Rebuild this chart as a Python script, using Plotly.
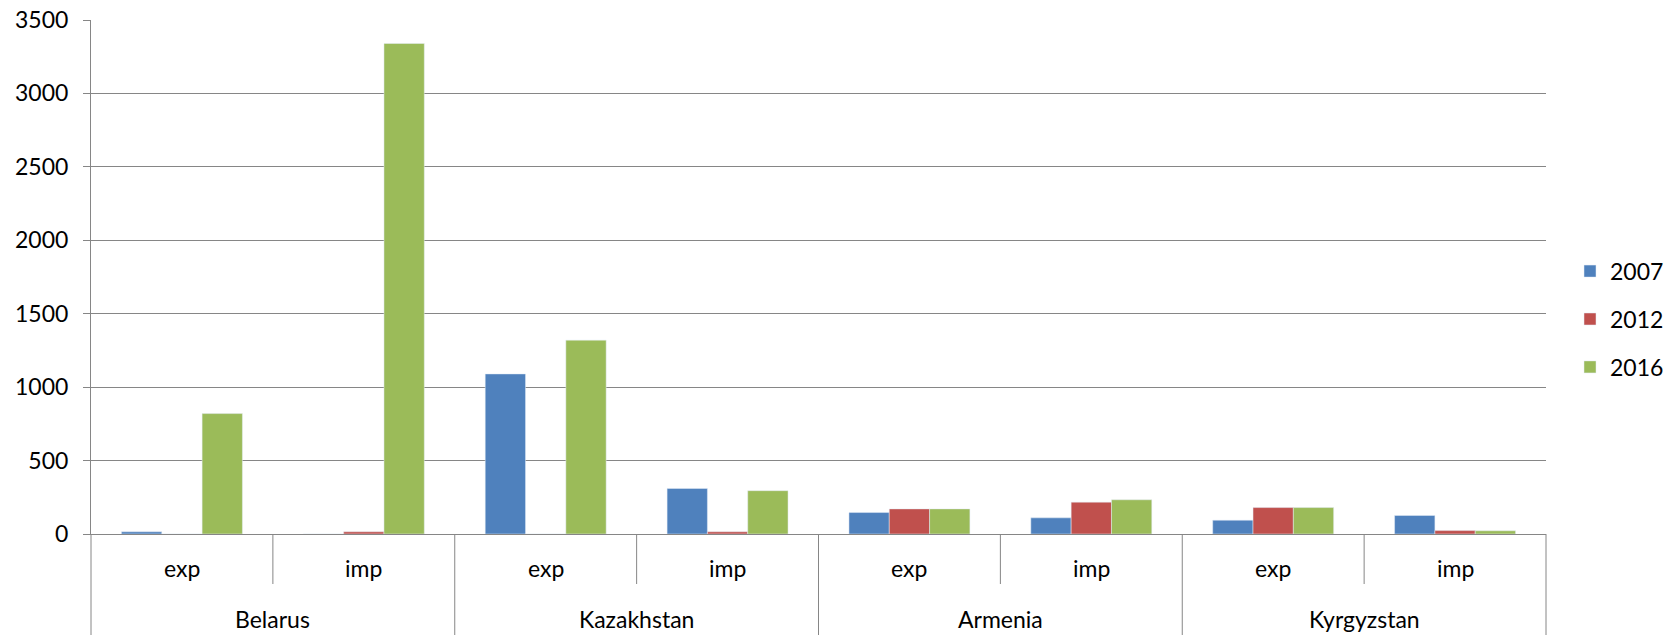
import plotly.graph_objects as go

# Trade flows by country and direction (exp / imp), three reference years
countries = ["Belarus", "Kazakhstan", "Armenia", "Kyrgyzstan"]
flows = ["exp", "imp"]
years = ["2007", "2012", "2016"]

values_2007 = [15, 0, 1090, 310, 146, 110, 94, 126]
values_2012 = [0, 15, 0, 15, 171, 217, 180, 23]
values_2016 = [820, 3340, 1320, 295, 171, 233, 180, 22]

colors = ["#4F81BD", "#C0504D", "#9BBB59"]
y_ticks = [0, 500, 1000, 1500, 2000, 2500, 3000, 3500]

FONT = "Lato, 'Open Sans', sans-serif"
FS = 23
GRID = "#868686"

n_cat = len(countries) * len(flows)
x_pos = list(range(n_cat))
sub_labels = [f for _ in countries for f in flows]

fig = go.Figure()
for name, vals, col in zip(years, [values_2007, values_2012, values_2016], colors):
    fig.add_trace(go.Bar(
        x=x_pos, y=vals, name=name, marker_color=col,
        legendgroup=name,
    ))

# Category labels below the axis
annotations = []
for i, lab in enumerate(sub_labels):
    annotations.append(dict(
        x=(i + 0.5) / n_cat, xref="paper", y=0, yref="paper",
        text=lab, showarrow=False, xanchor="center", yanchor="middle",
        yshift=-34, font=dict(family=FONT, size=FS, color="#000"),
    ))
for j, c in enumerate(countries):
    annotations.append(dict(
        x=(2 * j + 1) / n_cat, xref="paper", y=0, yref="paper",
        text=c, showarrow=False, xanchor="center", yanchor="middle",
        yshift=-85, font=dict(family=FONT, size=FS, color="#000"),
    ))

# Divider lines between categories in the label area
plot_h = 635 - 20 - 101
shapes = []
for k in range(n_cat + 1):
    outer = (k % 2 == 0)
    y_end = -101 / plot_h if outer else -50 / plot_h
    shapes.append(dict(
        type="line", xref="paper", yref="paper",
        x0=k / n_cat, x1=k / n_cat, y0=0, y1=y_end,
        line=dict(color=GRID, width=1),
    ))

fig.update_layout(
    width=1680, height=635,
    margin=dict(l=91, r=134, t=20, b=101, autoexpand=False),
    paper_bgcolor="white", plot_bgcolor="white",
    barmode="group", bargap=0.335, bargroupgap=0,
    font=dict(family=FONT, size=FS, color="#000"),
    showlegend=True,
    legend=dict(
        x=(1570 - 91) / 1455, xanchor="left",
        y=0.418, yanchor="middle",
        tracegroupgap=15,
        font=dict(family=FONT, size=FS, color="#000"),
        bgcolor="rgba(0,0,0,0)",
    ),
    xaxis=dict(
        range=[-0.5, n_cat - 0.5], showticklabels=False, showgrid=False,
        zeroline=False, showline=True, linecolor=GRID, linewidth=1,
        ticks="", automargin=False,
    ),
    yaxis=dict(
        range=[0, 3500], tickvals=y_ticks, showgrid=True, gridcolor=GRID,
        gridwidth=1, zeroline=False, showline=True, linecolor=GRID,
        linewidth=1, ticks="outside", ticklen=7, tickcolor=GRID,
        ticklabelstandoff=10, automargin=False,
        tickfont=dict(family=FONT, size=FS, color="#000"),
    ),
    annotations=annotations,
    shapes=shapes,
)

fig.write_html("out.html")
